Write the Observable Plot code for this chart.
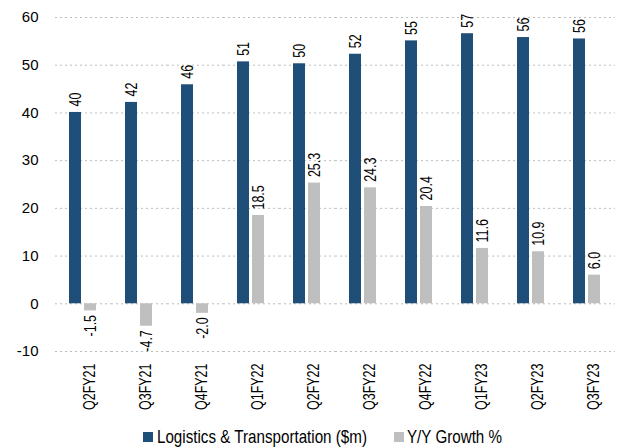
<!DOCTYPE html>
<html>
<head>
<meta charset="utf-8">
<script src="https://cdn.jsdelivr.net/npm/d3@7"></script>
<script src="https://cdn.jsdelivr.net/npm/@observablehq/plot@0.6"></script>
<style>
  html, body { margin: 0; padding: 0; background: #fff; }
  body { width: 618px; height: 448px; overflow: hidden; font-family: "Liberation Sans", Arial, sans-serif; }
  #legend { position: relative; margin-top: 3px; height: 20px; font-size: 18.5px; color: #000; }
  .sw { position: absolute; top: 5px; width: 10px; height: 10px; }
  .lt { position: absolute; top: 0; line-height: 20px; white-space: nowrap; transform: scaleX(0.82); transform-origin: 0 50%; }
</style>
</head>
<body>
<div id="chart"></div>
<div id="legend"></div>
<script>
const categories = ["Q2FY21","Q3FY21","Q4FY21","Q1FY22","Q2FY22","Q3FY22","Q4FY22","Q1FY23","Q2FY23","Q3FY23"];
const logistics = [40.1, 42.2, 45.9, 50.7, 50.3, 52.3, 55.1, 56.6, 55.8, 55.5];
const growth = [-1.5, -4.7, -2.0, 18.5, 25.3, 24.3, 20.4, 11.6, 10.9, 6.0];
const seriesNames = ["Logistics & Transportation ($m)", "Y/Y Growth %"];
const colors = ["#1F4E79", "#BFBFBF"];
const yTicks = [-10, 0, 10, 20, 30, 40, 50, 60];

const hy = s => s.replace("\u2212", "-");
const rows = [];
categories.forEach((c, i) => {
  rows.push({cat: c, series: seriesNames[0], value: logistics[i], label: hy(d3.format(".0f")(logistics[i]))});
  rows.push({cat: c, series: seriesNames[1], value: growth[i], label: hy(d3.format(".1f")(growth[i]))});
});
const pos = rows.filter(d => d.value >= 0);
const neg = rows.filter(d => d.value < 0);

const chart = Plot.plot({
  width: 618,
  height: 424,
  marginLeft: 51,
  marginRight: 0,
  marginTop: 17,
  marginBottom: 73,
  style: {fontFamily: "Liberation Sans, Arial, sans-serif", fontSize: "15px", color: "#000", background: "#fff"},
  fx: {domain: categories, padding: 0, label: null},
  x: {domain: seriesNames, paddingInner: 0.19, paddingOuter: 0.875, axis: null},
  y: {domain: [-10, 60], ticks: yTicks, label: null},
  color: {domain: seriesNames, range: colors},
  marks: [
    Plot.ruleY(yTicks, {stroke: "#bdbdbd", strokeDasharray: "2,3", strokeWidth: 1}),
    Plot.axisY({ticks: yTicks, tickSize: 0, tickPadding: 17, fontSize: 15, label: null, stroke: "none", tickFormat: d => String(d)}),
    Plot.axisFx({anchor: "bottom", tickSize: 0, tickPadding: 12, rotate: -90, textAnchor: "end", fontSize: 16, label: null}),
    Plot.barY(rows, {fx: "cat", x: "series", y: "value", fill: "series"}),
    Plot.text(pos, {fx: "cat", x: "series", y: "value", text: "label", rotate: -90, textAnchor: "start", dy: -6, fontSize: 16, fill: "#000"}),
    Plot.text(neg, {fx: "cat", x: "series", y: "value", text: "label", rotate: -90, textAnchor: "end", dy: 4, fontSize: 16, fill: "#000"})
  ]
});
// condense rotated labels along their text direction (narrow-font look)
d3.select(chart).selectAll("text").each(function() {
  const t = this.getAttribute("transform");
  if (t && t.includes("rotate")) this.setAttribute("transform", t + " scale(0.78,1)");
});
document.getElementById("chart").appendChild(chart);

const legend = document.getElementById("legend");
const swX = [143, 394], txX = [157, 407];
seriesNames.forEach((s, i) => {
  const sw = document.createElement("span");
  sw.className = "sw";
  sw.style.left = swX[i] + "px";
  sw.style.background = colors[i];
  const t = document.createElement("span");
  t.className = "lt";
  t.style.left = txX[i] + "px";
  t.textContent = s;
  legend.appendChild(sw);
  legend.appendChild(t);
});
</script>
</body>
</html>
